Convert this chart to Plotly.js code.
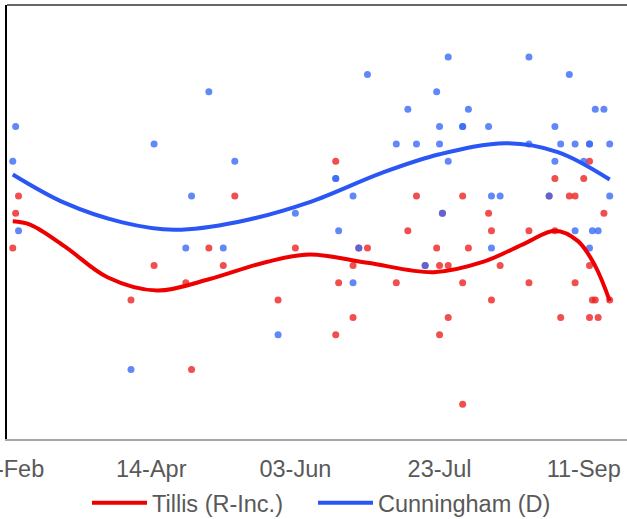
<!DOCTYPE html>
<html>
<head>
<meta charset="utf-8">
<script src="https://cdn.plot.ly/plotly-3.0.1.min.js"></script>
<style>
html,body{margin:0;padding:0;background:#fff;}
#chart{width:627px;height:519px;}
</style>
</head>
<body>
<div id="chart"></div>
<script>
// Poll results (percent)
var tillisDates = ['2020-02-26','2020-02-27','2020-02-28','2020-04-07','2020-04-15','2020-04-26','2020-04-28','2020-05-04','2020-05-09','2020-05-13','2020-05-28','2020-06-03','2020-06-17','2020-06-17','2020-06-18','2020-06-23','2020-06-23','2020-06-25','2020-06-28','2020-07-08','2020-07-12','2020-07-15','2020-07-18','2020-07-22','2020-07-23','2020-07-23','2020-07-24','2020-07-26','2020-07-26','2020-07-31','2020-07-31','2020-07-31','2020-08-02','2020-08-09','2020-08-10','2020-08-10','2020-08-13','2020-08-23','2020-08-23','2020-08-30','2020-09-01','2020-09-01','2020-09-03','2020-09-06','2020-09-08','2020-09-08','2020-09-11','2020-09-13','2020-09-13','2020-09-13','2020-09-14','2020-09-15','2020-09-16','2020-09-18','2020-09-20'];
var tillisVals = [41,43,44,38,40,39,34,41,40,44,38,41,46,36,39,40,37,41,41,39,42,44,40,41,40,36,43,40,37,44,39,32,41,43,42,38,40,42,39,44,45,42,37,44,44,39,45,46,40,37,38,38,37,43,38];

var cunnDates = ['2020-02-26','2020-02-27','2020-02-28','2020-04-07','2020-04-15','2020-04-26','2020-04-28','2020-05-04','2020-05-09','2020-05-13','2020-05-28','2020-06-03','2020-06-17','2020-06-17','2020-06-18','2020-06-23','2020-06-23','2020-06-25','2020-06-28','2020-07-08','2020-07-12','2020-07-15','2020-07-18','2020-07-22','2020-07-23','2020-07-23','2020-07-24','2020-07-26','2020-07-26','2020-07-31','2020-07-31','2020-08-02','2020-08-09','2020-08-10','2020-08-10','2020-08-13','2020-08-23','2020-08-23','2020-08-30','2020-09-01','2020-09-01','2020-09-03','2020-09-06','2020-09-08','2020-09-08','2020-09-11','2020-09-13','2020-09-13','2020-09-13','2020-09-14','2020-09-15','2020-09-16','2020-09-18','2020-09-20','2020-09-20'];
var cunnVals = [46,48,42,34,47,41,44,50,41,46,36,43,45,45,42,44,39,41,51,47,49,47,40,50,48,47,43,52,46,48,48,49,48,44,41,44,52,47,44,48,46,47,51,47,42,46,47,47,41,42,49,42,49,47,44];

// Smoothed trend lines
var tillisTrendDates = ['2020-02-26','2020-03-03','2020-03-15','2020-03-30','2020-04-16','2020-05-04','2020-05-24','2020-06-08','2020-06-28','2020-07-21','2020-08-07','2020-08-22','2020-09-01','2020-09-09','2020-09-15','2020-09-20'];
var tillisTrendVals = [42.54,42.35,41.1,39.3,38.55,39.2,40.2,40.63,40.15,39.61,40.2,41.3,42.0,41.4,39.96,37.96];

var cunnTrendDates = ['2020-02-26','2020-03-15','2020-04-04','2020-04-22','2020-05-14','2020-06-08','2020-07-03','2020-07-23','2020-08-15','2020-09-02','2020-09-20'];
var cunnTrendVals = [45.24,43.6,42.48,42.05,42.5,43.65,45.33,46.4,47.04,46.53,44.95];

var seriesNames = ['Tillis (R-Inc.)', 'Cunningham (D)'];
var tickStart = '2020-02-24';
var xEnd = '2020-09-26';

var redLine = '#ee0000', blueLine = '#2a56f5';
var redDot = 'rgba(238,34,34,0.8)', blueDot = 'rgba(58,106,245,0.8)';

var traces = [
  {x: tillisDates, y: tillisVals, type: 'scatter', mode: 'markers', showlegend: false, hoverinfo: 'skip',
   marker: {color: redDot, size: 7}},
  {x: cunnDates, y: cunnVals, type: 'scatter', mode: 'markers', showlegend: false, hoverinfo: 'skip',
   marker: {color: blueDot, size: 7}},
  {x: tillisTrendDates, y: tillisTrendVals, type: 'scatter', mode: 'lines', name: seriesNames[0],
   legend: 'legend', line: {color: redLine, width: 4, shape: 'spline', smoothing: 1}},
  {x: cunnTrendDates, y: cunnTrendVals, type: 'scatter', mode: 'lines', name: seriesNames[1],
   legend: 'legend2', line: {color: blueLine, width: 4, shape: 'spline', smoothing: 1}}
];

var legendBase = {
  orientation: 'h', xref: 'container', yref: 'container',
  xanchor: 'left', y: 0.031, yanchor: 'middle',
  font: {size: 23.5, color: '#595959'}, itemwidth: 55,
  bgcolor: 'rgba(0,0,0,0)', borderwidth: 0
};

var layout = {
  width: 627, height: 519,
  margin: {l: 7, r: 0, t: 5, b: 80, pad: 0},
  paper_bgcolor: '#fff', plot_bgcolor: '#fff',
  font: {family: 'Liberation Sans, Arial, sans-serif', size: 23.5, color: '#595959'},
  showlegend: true,
  xaxis: {
    type: 'date', range: [tickStart, xEnd],
    tickmode: 'linear', tick0: tickStart, dtick: 50 * 86400000,
    tickformat: '%d-%b', ticks: '', showgrid: false, zeroline: false,
    showline: true, linecolor: '#a6a6a6', linewidth: 1.5,
    ticklabeloverflow: 'allow', ticklabelstandoff: 8, automargin: false,
    tickfont: {size: 23.5, color: '#595959'}
  },
  yaxis: {
    range: [30, 55], showticklabels: false, ticks: '', showgrid: false, zeroline: false,
    showline: true, linecolor: '#000', linewidth: 2, automargin: false
  },
  legend: Object.assign({}, legendBase, {x: 87 / 627}),
  legend2: Object.assign({}, legendBase, {x: 313 / 627}),
  shapes: [
    {type: 'line', xref: 'paper', yref: 'paper', x0: 0, x1: 1, y0: 1, y1: 1,
     line: {color: '#333', width: 1.5}}
  ]
};

Plotly.newPlot('chart', traces, layout, {staticPlot: true, displayModeBar: false});
</script>
</body>
</html>
